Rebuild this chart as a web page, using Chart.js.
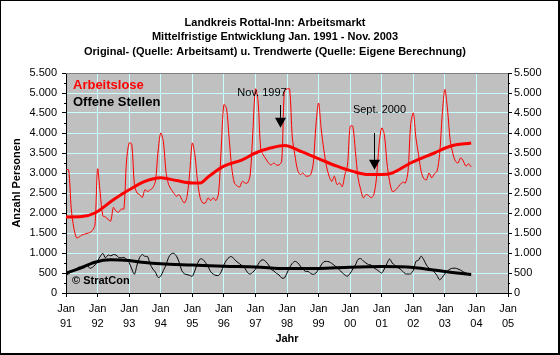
<!DOCTYPE html>
<html><head><meta charset="utf-8">
<script src="https://cdn.jsdelivr.net/npm/chart.js@4"></script>
<style>html,body{margin:0;padding:0;background:#fff}#wrap{width:560px;height:355px;position:relative}canvas{display:block}</style>
</head><body><div id="wrap"><canvas id="c" width="560" height="355"></canvas></div>
<script>
const titleLines = [
  'Landkreis Rottal-Inn: Arbeitsmarkt',
  'Mittelfristige Entwicklung Jan. 1991 - Nov. 2003',
  'Original- (Quelle: Arbeitsamt) u. Trendwerte (Quelle: Eigene Berechnung)'
];
const seriesNames = ['Arbeitslose', 'Offene Stellen'];
const yearLabels = ['91','92','93','94','95','96','97','98','99','00','01','02','03','04','05'];
const monthLabel = 'Jan';

// monthly values Jan 1991 - Nov 2003
const arbeitslose = [
  3080,3080,2100,1620,1380,1400,1450,1470,1490,1510,1560,1700,
  3100,2500,1930,1900,1840,1800,2140,2050,2020,2100,2100,3300,
  3750,3720,2710,2500,2460,2390,2580,2540,2580,2630,2800,3550,
  4000,3790,3040,2710,2590,2490,2420,2460,2340,2250,2410,3000,
  3750,3450,2790,2380,2250,2250,2380,2310,2380,2310,2500,3620,
  4710,4620,3880,3130,2750,2680,2650,2790,2750,2750,2950,4000,
  5100,4800,3600,3450,3350,3250,3200,3250,3200,3200,3300,5050,
  5100,5100,3900,3450,3080,2960,3000,2930,2920,2960,3250,4200,
  4750,4100,3580,3170,2920,2790,2920,2710,2750,2660,2960,3200,
  4170,4170,3540,2880,2590,2380,2460,2440,2380,2460,2870,3710,
  4125,3960,3250,2790,2540,2560,2630,2710,2770,2750,3040,4210,
  4500,3880,3460,3040,2860,2830,3000,2880,2980,3040,3460,4460,
  5090,4600,3830,3500,3300,3250,3380,3300,3170,3230,3150
];
const offeneStellen = [
  430,480,530,570,610,650,640,630,710,620,640,700,
  800,910,990,880,950,930,960,950,890,880,890,840,
  760,600,470,700,890,960,915,910,720,600,520,390,
  420,560,700,890,980,990,920,770,560,480,460,440,
  420,560,740,850,840,760,665,530,470,440,440,530,
  700,820,890,910,840,780,730,680,620,510,475,520,
  590,710,810,830,780,700,590,550,490,450,375,375,
  500,640,740,790,760,680,600,540,540,490,465,500,
  590,700,780,790,780,740,690,640,570,510,450,420,
  490,600,700,840,860,800,750,710,700,630,590,540,
  500,600,740,850,750,690,640,600,540,480,475,480,
  560,790,820,920,830,700,620,590,520,440,330,390,
  480,550,600,620,620,600,570,530,500,470,430
];
// trend values (month index since Jan 1991, value)
const trendArbeitsloseMonths = [0,6,11,18,24,30,36,42,48,51,54,60,67,72,78,83,90,97,103,109,115,120,124,131,140,146,154];
const trendArbeitsloseValues = [1900,1910,2000,2330,2580,2790,2880,2810,2750,2750,2900,3170,3330,3500,3630,3690,3520,3330,3170,3040,2960,2960,3000,3250,3500,3670,3750];
const trendOffeneMonths = [0,5,11,17,24,30,36,48,60,72,84,96,108,120,132,138,146,154];
const trendOffeneValues = [500,610,770,830,810,760,730,700,670,650,610,615,645,660,640,590,520,460];

const FONT = "'Liberation Sans', Arial, Helvetica, sans-serif";
Chart.defaults.font.family = FONT;
Chart.defaults.color = '#000';

const toXY = (arr) => arr.map((v, i) => ({x: i, y: v}));
const zipXY = (xs, ys) => xs.map((x, i) => ({x: x, y: ys[i]}));
const fmt = (v) => String(v).replace(/\B(?=(\d{3})+(?!\d))/g, '.');
const GRID = '#c8ffff';
const edgeAware = (lo, hi) => (ctx) => (ctx.tick && (ctx.tick.value === lo || ctx.tick.value === hi)) ? 'rgba(0,0,0,0)' : GRID;

const deco = {
  id: 'deco',
  beforeDraw(chart) {
    const {ctx, chartArea: a} = chart;
    ctx.save();
    ctx.fillStyle = '#fff';
    ctx.fillRect(0, 0, chart.width, chart.height);
    ctx.fillStyle = '#c0c0c0';
    ctx.fillRect(a.left, a.top, a.right - a.left, a.bottom - a.top);
    ctx.restore();
  },
  beforeDatasetsDraw(chart) {
    const {ctx, chartArea: a, scales} = chart;
    ctx.save();
    ctx.strokeStyle = '#808080';
    ctx.lineWidth = 1;
    ctx.beginPath();
    ctx.moveTo(a.left, a.top + 0.5);
    ctx.lineTo(a.right, a.top + 0.5);
    ctx.stroke();
    ctx.strokeStyle = '#000';
    ctx.beginPath();
    for (let v = 250; v < 5500; v += 500) {
      const y = Math.round(scales.y.getPixelForValue(v)) + 0.5;
      ctx.moveTo(a.left - 2, y); ctx.lineTo(a.left, y);
      ctx.moveTo(a.right, y); ctx.lineTo(a.right + 2, y);
    }
    ctx.stroke();
    ctx.restore();
  },
  afterDraw(chart) {
    const {ctx, chartArea: a, scales} = chart;
    const xs = scales.x, ys = scales.y;
    ctx.save();
    // title
    ctx.fillStyle = '#000';
    ctx.textAlign = 'center';
    ctx.textBaseline = 'middle';
    ctx.font = 'bold 11px ' + FONT;
    const ty = [22.5, 37, 52];
    titleLines.forEach((t, i) => ctx.fillText(t, 275, ty[i]));
    // legend inside plot
    ctx.textAlign = 'left';
    ctx.font = 'bold 13px ' + FONT;
    ctx.fillStyle = '#ff0000';
    ctx.fillText(seriesNames[0], a.left + 7, a.top + 12);
    ctx.fillStyle = '#000';
    ctx.fillText(seriesNames[1], a.left + 7, a.top + 29.5);
    ctx.font = 'bold 11px ' + FONT;
    ctx.fillText('\u00a9 StratCon', a.left + 6, a.bottom - 12.5);
    // annotations
    ctx.font = '11px ' + FONT;
    ctx.textAlign = 'center';
    const arrow = (m, vTop, vHead, vTip) => {
      const x = Math.round(xs.getPixelForValue(m)) + 0.5;
      ctx.strokeStyle = '#000'; ctx.lineWidth = 1;
      ctx.beginPath();
      ctx.moveTo(x, ys.getPixelForValue(vTop));
      ctx.lineTo(x, ys.getPixelForValue(vHead));
      ctx.stroke();
      ctx.beginPath();
      ctx.moveTo(x - 5.5, ys.getPixelForValue(vHead));
      ctx.lineTo(x + 5.5, ys.getPixelForValue(vHead));
      ctx.lineTo(x, ys.getPixelForValue(vTip));
      ctx.closePath();
      ctx.fill();
      return x;
    };
    const x1 = arrow(81.4, 4700, 4380, 4130);
    ctx.fillText('Nov. 1997', x1 - 18.5, ys.getPixelForValue(5000));
    const x2 = arrow(116.9, 4000, 3330, 3080);
    ctx.fillText('Sept. 2000', x2 + 5, ys.getPixelForValue(4580));
    // outer frame
    ctx.fillStyle = '#000';
    ctx.fillRect(0, 0, 1, chart.height);
    ctx.fillRect(0, 0, chart.width, 1);
    ctx.fillRect(chart.width - 2, 0, 2, chart.height);
    ctx.fillRect(0, chart.height - 2, chart.width, 2);
    ctx.restore();
  }
};

new Chart(document.getElementById('c'), {
  type: 'line',
  data: {
    datasets: [
      {label: seriesNames[0] + ' Trend', data: zipXY(trendArbeitsloseMonths, trendArbeitsloseValues), borderColor: '#ff0000', borderWidth: 3, cubicInterpolationMode: 'monotone', order: 0},
      {label: seriesNames[1] + ' Trend', data: zipXY(trendOffeneMonths, trendOffeneValues), borderColor: '#000', borderWidth: 3, cubicInterpolationMode: 'monotone', order: 0},
      {label: seriesNames[0], data: toXY(arbeitslose), borderColor: '#ff0000', borderWidth: 1, tension: 0.3, order: 1},
      {label: seriesNames[1], data: toXY(offeneStellen), borderColor: '#000', borderWidth: 1, tension: 0.3, order: 1}
    ]
  },
  options: {
    responsive: false,
    animation: false,
    devicePixelRatio: 1,
    layout: {padding: {top: 73, left: 0, right: 0, bottom: 0}},
    elements: {point: {radius: 0}, line: {fill: false}},
    plugins: {legend: {display: false}, title: {display: false}, tooltip: {enabled: false}},
    scales: {
      x: {
        type: 'linear', min: 0, max: 168,
        ticks: {stepSize: 12, autoSkip: false, maxRotation: 0, padding: 4, font: {size: 11, lineHeight: '15px'},
          callback: (v) => [monthLabel, yearLabels[Math.round(v / 12)]]},
        grid: {color: edgeAware(0, 168), tickColor: '#000', tickLength: 4, lineWidth: 1},
        border: {color: '#000', width: 1},
        title: {display: true, text: 'Jahr', font: {size: 11, weight: 'bold', lineHeight: '13px'}, padding: {top: 0, bottom: 9.5}},
        afterFit(s) { s.height = 62; }
      },
      y: {
        position: 'left', min: 0, max: 5500,
        ticks: {stepSize: 500, padding: 5, font: {size: 11}, callback: fmt},
        grid: {color: edgeAware(0, 5500), tickColor: '#000', tickLength: 4, lineWidth: 1},
        border: {color: '#000', width: 1},
        title: {display: true, text: 'Anzahl Personen', font: {size: 11, weight: 'bold', lineHeight: '13px'}, padding: {top: 10.5, bottom: 0}},
        afterFit(s) { s.width = 66; }
      },
      y2: {
        position: 'right', min: 0, max: 5500,
        ticks: {stepSize: 500, padding: 2, font: {size: 11}, callback: fmt},
        grid: {drawOnChartArea: false, tickColor: '#000', tickLength: 4},
        border: {color: '#000', width: 1},
        afterFit(s) { s.width = 52; }
      }
    }
  },
  plugins: [deco]
});
</script>
</body></html>
